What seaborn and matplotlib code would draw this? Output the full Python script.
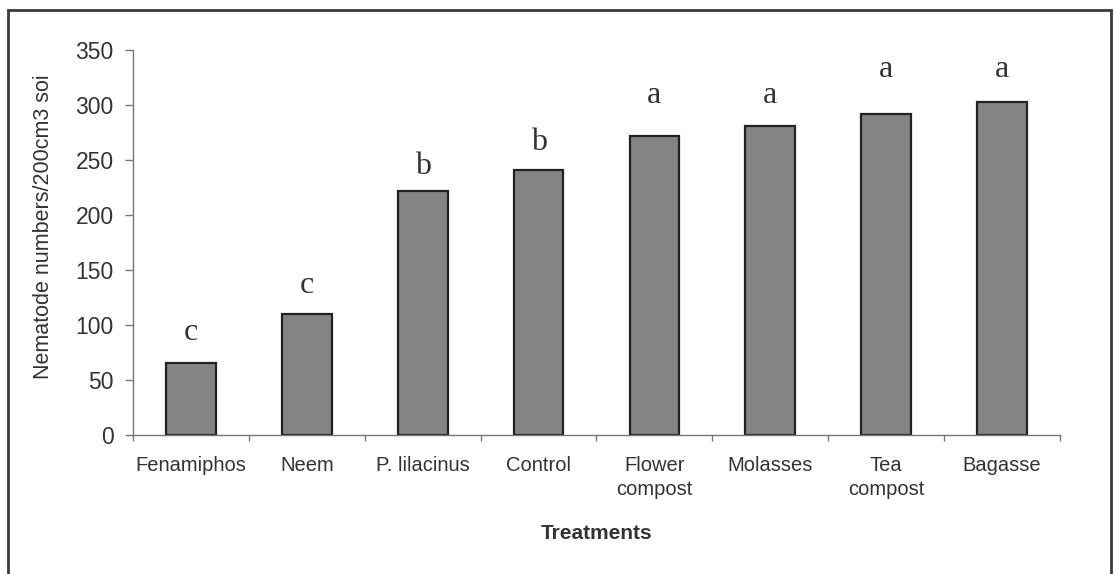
import numpy as np
import pandas as pd
import matplotlib
matplotlib.use("Agg")
import matplotlib.pyplot as plt
from matplotlib.patches import Rectangle
from matplotlib.ticker import FixedLocator
import seaborn as sns

# ---- data ----
treatments = ["Fenamiphos", "Neem", "P. lilacinus", "Control",
              "Flower\ncompost", "Molasses", "Tea\ncompost", "Bagasse"]
nematodes = [65, 110, 222, 241, 272, 281, 292, 303]
sig_letters = ["c", "c", "b", "b", "a", "a", "a", "a"]
letter_y = [86, 129, 237, 259, 302, 302, 325, 325]
y_ticks = [0, 50, 100, 150, 200, 250, 300, 350]
y_label = "Nematode numbers/200cm3 soi"
x_label = "Treatments"

sns.set_style("white")
plt.rcParams["font.family"] = ["Liberation Sans", "DejaVu Sans"]

df = pd.DataFrame({"Treatment": treatments, "Count": nematodes})

fig = plt.figure(figsize=(11.14, 5.74), dpi=100)
ax = fig.add_axes([0.1194, 0.2422, 0.8321, 0.6707])

sns.barplot(data=df, x="Treatment", y="Count", ax=ax, color="#848484",
            edgecolor="#222222", linewidth=1.6, width=0.43, saturation=1)

ax.set_ylim(0, 350)
ax.set_yticks(y_ticks)
ax.set_xlim(-0.5, len(treatments) - 0.5)

for sp in ["top", "right"]:
    ax.spines[sp].set_visible(False)
for sp in ["left", "bottom"]:
    ax.spines[sp].set_color("#777777")
    ax.spines[sp].set_linewidth(1.0)

ax.tick_params(axis="y", which="major", direction="out", length=6, width=1,
               color="#777777", labelsize=16.5, labelcolor="#333333", pad=8, left=True)
ax.tick_params(axis="x", which="major", length=0, labelsize=14.5,
               labelcolor="#333333", pad=15)
for lbl in ax.get_xticklabels():
    lbl.set_linespacing(1.35)
ax.xaxis.set_minor_locator(FixedLocator(np.arange(-0.5, len(treatments), 1.0)))
ax.tick_params(axis="x", which="minor", direction="out", length=4, width=1,
               color="#777777", bottom=True)

ax.set_xlabel(x_label, fontsize=15, fontweight="bold", color="#333333", labelpad=18)
ax.set_ylabel(y_label, fontsize=15.5, color="#333333")
ax.yaxis.set_label_coords(-0.085, 0.54)

for i, (lt, ly) in enumerate(zip(sig_letters, letter_y)):
    ax.text(i, ly, lt, ha="center", va="baseline", fontsize=23,
            family=["Liberation Serif", "DejaVu Serif"], color="#333333")

# frame around the figure
fig.patches.append(Rectangle((8 / 1114, -0.02), 1103 / 1114, 1 - 10 / 574 + 0.02,
                             transform=fig.transFigure, fill=False,
                             edgecolor="#3a3a3a", linewidth=2.0))

fig.savefig("out.png", dpi=100)
